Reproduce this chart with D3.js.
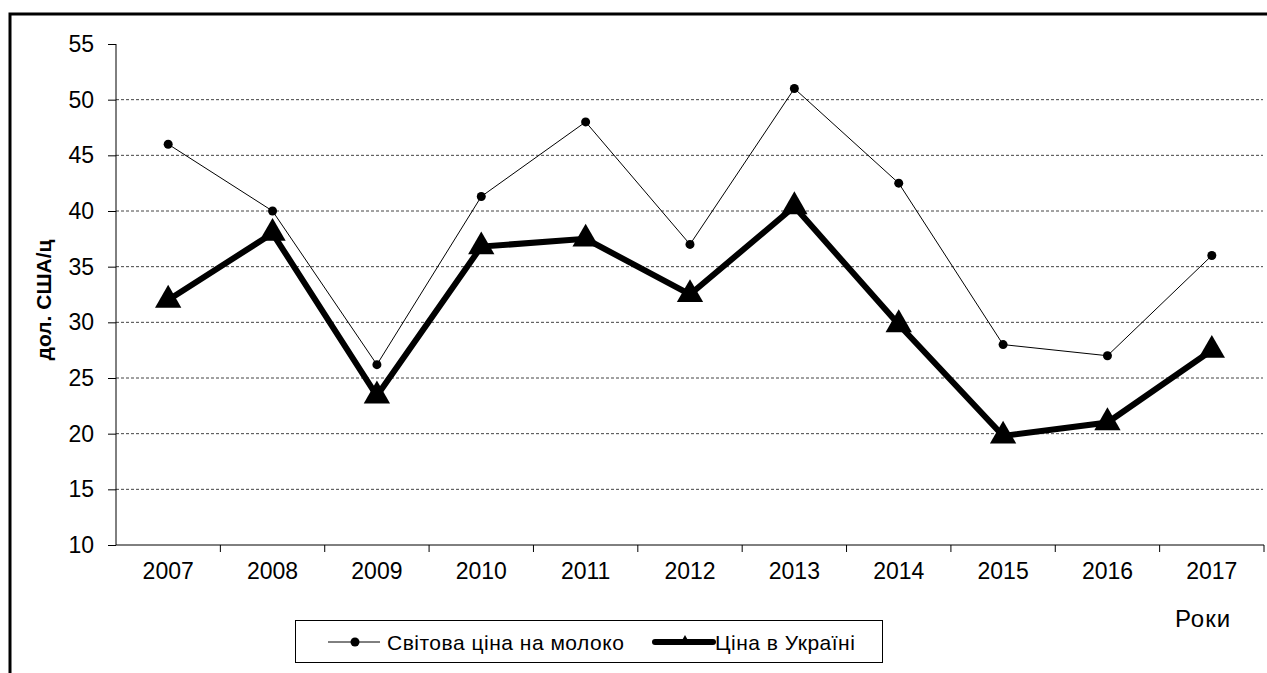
<!DOCTYPE html>
<html>
<head>
<meta charset="utf-8">
<script src="https://cdn.jsdelivr.net/npm/d3@7"></script>
<style>
  body { margin: 0; background: #fff; }
  text { font-family: Arial, "Liberation Sans", sans-serif; fill: #000; }
</style>
</head>
<body>
<div id="chart"></div>
<script>
let width = 1267
    height = 673

// data
let years = ["2007","2008","2009","2010","2011","2012","2013","2014","2015","2016","2017"];
let worldPrice = [46, 40, 26.2, 41.3, 48, 37, 51, 42.5, 28, 27, 36];
let ukrPrice = [32, 38, 23.4, 36.8, 37.5, 32.5, 40.4, 29.8, 19.8, 21, 27.5];
let yTicks = [10, 15, 20, 25, 30, 35, 40, 45, 50, 55];
let seriesNames = ["Світова ціна на молоко", "Ціна в Україні"];

let svg = d3.select("#chart")
  .append("svg")
    .attr("width", width)
    .attr("height", height);

// outer frame (only top and left visible)
svg.append("path")
  .attr("d", "M10,673 L10,14 L1267,14")
  .attr("fill", "none")
  .attr("stroke", "#000")
  .attr("stroke-width", 3);

let x = d3.scaleBand()
  .domain(years)
  .range([116, 1264])
  .padding(0);

let y = d3.scaleLinear()
  .domain([10, 55])
  .range([545, 44]);

let cx = d => x(d) + x.bandwidth() / 2;

// grid
svg.append("g")
  .selectAll("line")
  .data(yTicks.filter(t => t > 10 && t < 55))
  .enter()
  .append("line")
    .attr("x1", 116)
    .attr("x2", 1263)
    .attr("y1", d => y(d))
    .attr("y2", d => y(d))
    .attr("stroke", "#444")
    .attr("stroke-width", 1)
    .attr("stroke-dasharray", "3,2");

// y axis
let yAxis = svg.append("g")
  .attr("transform", "translate(116,0)")
  .call(d3.axisLeft(y).tickValues(yTicks).tickSize(8).tickPadding(14));
yAxis.select(".domain").attr("stroke", "#000").attr("d", "M0," + y(55) + "V" + y(10));
yAxis.selectAll("text").style("font-size", "23px");

// x axis
let xAxis = svg.append("g")
  .attr("transform", "translate(0,545)")
  .call(d3.axisBottom(x).tickSize(0).tickPadding(18));
xAxis.select(".domain").attr("d", "M116,0H1264");
xAxis.selectAll("text").style("font-size", "23px");
xAxis.selectAll(null)
  .data(years)
  .enter()
  .append("line")
    .attr("x1", d => x(d) + x.bandwidth())
    .attr("x2", d => x(d) + x.bandwidth())
    .attr("y1", 0)
    .attr("y2", 7)
    .attr("stroke", "#000");

// axis titles
svg.append("text")
  .attr("transform", "translate(51,300) rotate(-90)")
  .attr("text-anchor", "middle")
  .style("font-size", "21px")
  .style("font-weight", "bold")
  .text("дол. США/ц");

svg.append("text")
  .attr("x", 1203)
  .attr("y", 627)
  .attr("text-anchor", "middle")
  .style("font-size", "24px")
  .style("letter-spacing", "1px")
  .text("Роки");

// world price line
let line = d3.line()
  .x((d, i) => cx(years[i]))
  .y(d => y(d));

svg.append("path")
  .datum(worldPrice)
  .attr("d", line)
  .attr("fill", "none")
  .attr("stroke", "#000")
  .attr("stroke-width", 1);

svg.append("g")
  .selectAll("circle")
  .data(worldPrice)
  .enter()
  .append("circle")
    .attr("cx", (d, i) => cx(years[i]))
    .attr("cy", d => y(d))
    .attr("r", 4.5)
    .attr("fill", "#000");

// ukraine line
svg.append("path")
  .datum(ukrPrice)
  .attr("d", line)
  .attr("fill", "none")
  .attr("stroke", "#000")
  .attr("stroke-width", 6)
  .attr("stroke-linejoin", "miter");

let tri = d3.symbol().type(d3.symbolTriangle).size(300);
svg.append("g")
  .selectAll("path")
  .data(ukrPrice)
  .enter()
  .append("path")
    .attr("d", tri)
    .attr("transform", (d, i) => `translate(${cx(years[i])},${y(d)})`)
    .attr("fill", "#000");

// legend
let legend = svg.append("g");
legend.append("rect")
  .attr("x", 295.5)
  .attr("y", 620.5)
  .attr("width", 587)
  .attr("height", 42)
  .attr("fill", "#fff")
  .attr("stroke", "#000")
  .attr("stroke-width", 1);

legend.append("line")
  .attr("x1", 328).attr("x2", 380)
  .attr("y1", 642).attr("y2", 642)
  .attr("stroke", "#000").attr("stroke-width", 1);
legend.append("circle")
  .attr("cx", 355).attr("cy", 642).attr("r", 4.5).attr("fill", "#000");
legend.append("text")
  .attr("x", 387).attr("y", 649.5)
  .style("font-size", "21px")
  .style("letter-spacing", "0.5px")
  .text(seriesNames[0]);

legend.append("line")
  .attr("x1", 655).attr("x2", 713)
  .attr("y1", 642).attr("y2", 642)
  .attr("stroke", "#000").attr("stroke-width", 6)
  .attr("stroke-linecap", "round");
legend.append("path")
  .attr("d", d3.symbol().type(d3.symbolTriangle).size(45))
  .attr("transform", "translate(685,641)")
  .attr("fill", "#000");
legend.append("text")
  .attr("x", 715).attr("y", 649.5)
  .style("font-size", "21px")
  .style("letter-spacing", "0.5px")
  .text(seriesNames[1]);
</script>
</body>
</html>
